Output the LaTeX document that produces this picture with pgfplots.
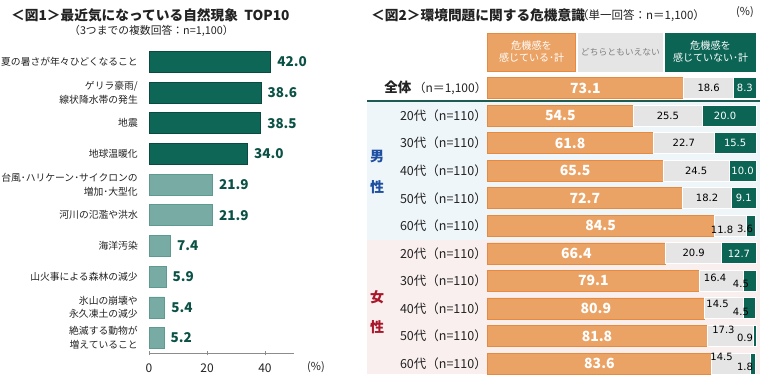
\documentclass[border=0pt]{standalone}
\usepackage{fontspec}
\setmainfont{Noto Sans CJK JP}
\newfontfamily\dv{DejaVu Sans}
\usepackage{pgfplots}
\pgfplotsset{compat=1.18}
\usepackage{pgfplotstable}
\newcommand\fs[2]{\fontsize{#1}{#2}\selectfont}
\definecolor{dk}{HTML}{0E6657}
\definecolor{dke}{HTML}{0A4A40}
\definecolor{lt}{HTML}{78ABA4}
\definecolor{lte}{HTML}{5D9A91}
\definecolor{vt}{HTML}{0B5145}
\definecolor{orf}{HTML}{EBA365}
\definecolor{ore}{HTML}{E58A3F}
\definecolor{grf}{HTML}{E5E5E5}
\definecolor{gnf}{HTML}{0C6455}
\definecolor{bandm}{HTML}{EEF6F9}
\definecolor{bandf}{HTML}{FAEFEF}
\definecolor{sep}{HTML}{1D5C52}
\definecolor{mblue}{HTML}{1E4FA0}
\definecolor{fred}{HTML}{A8182A}
\definecolor{txt}{HTML}{222222}

\pgfplotstableread{
i a b c
0 73.1 18.6 8.3
1 54.5 25.5 20.0
2 61.8 22.7 15.5
3 65.5 24.5 10.0
4 72.7 18.2 9.1
5 84.5 11.8 3.6
6 66.4 20.9 12.7
7 79.1 16.4 4.5
8 80.9 14.5 4.5
9 81.8 17.3 0.9
10 83.6 14.5 1.8
}\data

\begin{document}
\begin{tikzpicture}[x=1pt,y=1pt]
\useasboundingbox (0pt,0pt) rectangle (760pt,389pt);
% titles
\node[anchor=west,inner sep=0pt,text=txt] at (11pt,374pt) {\bfseries\fs{13.7}{15}＜図1＞最近気になっている自然現象\ \ TOP10};
\node[anchor=west,inner sep=0pt,text=txt] at (69pt,358pt) {\fs{10.8}{13}（3つまでの複数回答：n=1,100）};
\node[anchor=west,inner sep=0pt,text=txt] at (371pt,374pt) {\bfseries\fs{13.7}{15}＜図2＞環境問題に関する危機意識};
\node[anchor=west,inner sep=0pt,text=txt] at (577pt,373pt) {\fs{11.5}{13}（単一回答：n＝1,100）};
\node[inner sep=0pt,text=txt] at (745pt,377pt) {\fs{11}{13}(\%)};
\node[inner sep=0pt,text=txt] at (316pt,22pt) {\fs{11}{13}(\%)};
% bands
\fill[bandm] (367pt,288pt) rectangle (760pt,149pt);
\fill[bandf] (367pt,149pt) rectangle (760pt,15pt);
\draw[sep,line width=1.2pt] (367pt,288pt) -- (760pt,288pt);
% header boxes
\fill[orf] (487pt,356pt) rectangle (576pt,317pt);
\draw[ore,line width=0.6pt] (487.3pt,355.7pt) rectangle (575.7pt,317.3pt);
\fill[grf] (578pt,356pt) rectangle (663pt,317pt);
\fill[gnf] (665pt,356pt) rectangle (756pt,317pt);
\node[text=white,align=center,inner sep=0pt] at (531.5pt,337pt) {\fs{10.2}{16}危機感を\\感じている･計};
\node[text=black!50,align=center,inner sep=0pt] at (620.5pt,337pt) {\fs{8.8}{13}どちらともいえない};
\node[text=white,align=center,inner sep=0pt] at (710.5pt,337pt) {\fs{10.2}{16}危機感を\\感じていない･計};
% group labels
\node[text=mblue,inner sep=0pt] at (377pt,232pt) {\bfseries\fs{14}{16}男};
\node[text=mblue,inner sep=0pt] at (377pt,202pt) {\bfseries\fs{14}{16}性};
\node[text=fred,inner sep=0pt] at (377pt,92pt) {\bfseries\fs{14}{16}女};
\node[text=fred,inner sep=0pt] at (377pt,62pt) {\bfseries\fs{14}{16}性};

% ---------- left chart ----------
\begin{axis}[at={(149pt,35.7pt)}, anchor=south west, scale only axis,
  width=145pt, height=306.7pt,
  xmin=0, xmax=50, ymin=-0.5, ymax=9.5, y dir=reverse,
  xbar, bar width=21pt,
  axis x line*=bottom, axis y line*=left,
  x axis line style={-,draw=black!45},
  y axis line style={draw=none},
  xtick={0,20,40}, xtick style={draw=black!45}, tick align=center, major tick length=4pt,
  xticklabel style={font=\fs{12}{14}, text=txt, yshift=-5pt},
  ytick={0,...,9}, ytick style={draw=none},
  yticklabels={夏の暑さが年々ひどくなること,{ゲリラ豪雨/\\線状降水帯の発生},地震,地球温暖化,{台風･ハリケーン･サイクロンの\\増加･大型化},河川の氾濫や洪水,海洋汚染,山火事による森林の減少,{氷山の崩壊や\\永久凍土の減少},{絶滅する動物が\\増えていること}},
  yticklabel style={align=right, font=\fs{9.8}{13.5}, text=txt, inner sep=0pt, xshift=-9pt},
  /pgf/number format/assume math mode=true,
  nodes near coords={\pgfmathprintnumber[fixed,fixed zerofill,precision=1]{\pgfplotspointmeta}},
  nodes near coords style={anchor=west, font=\bfseries\fs{13.5}{15}, text=vt, xshift=3pt},
  clip=false]
\addplot[bar shift=0pt, fill=dk, draw=dke, line width=0.6pt] coordinates {(42.0,0) (38.6,1) (38.5,2) (34.0,3)};
\addplot[bar shift=0pt, fill=lt, draw=lte, line width=0.6pt] coordinates {(21.9,4) (21.9,5) (7.4,6) (5.9,7) (5.4,8) (5.2,9)};
\end{axis}

% ---------- right chart ----------
\begin{axis}[at={(487pt,11.7pt)}, anchor=south west, scale only axis,
  width=269pt, height=303pt,
  xmin=0, xmax=100, ymin=-0.5, ymax=10.5, y dir=reverse,
  xbar stacked, reverse stacked plots=false, bar width=21pt, hide axis, clip=false]
\addplot[fill=orf, draw=ore, line width=0.6pt] table[x=a,y=i]{\data};
\addplot[fill=grf, draw=white, line width=1pt] table[x=b,y=i]{\data};
\addplot[fill=gnf, draw=white, line width=1pt] table[x=c,y=i]{\data};
% row labels
\node[anchor=east,inner sep=0pt,text=txt] at (axis cs:0,0) {\bfseries\fs{13.5}{15}全体\,{\mdseries\fs{12}{14}（n＝1,100）}\hspace{4pt}};
\foreach \k/\a in {1/20,2/30,3/40,4/50,5/60,6/20,7/30,8/40,9/50,10/60}{
  \edef\tmp{\noexpand\node[anchor=east,inner sep=0pt,text=txt] at (axis cs:0,\k) {\noexpand\fs{12.5}{14}\a 代（n=110）\noexpand\hspace{1.5pt}};}\tmp
}
% orange labels
\foreach \x/\k/\v in {36.55/0/73.1,27.25/1/54.5,30.9/2/61.8,32.75/3/65.5,36.35/4/72.7,42.25/5/84.5,33.2/6/66.4,39.55/7/79.1,40.45/8/80.9,40.9/9/81.8,41.8/10/83.6}{
  \edef\tmp{\noexpand\node[text=white,inner sep=0pt] at (axis cs:\x,\k) {\noexpand\bfseries\noexpand\fs{14}{16}\v};}\tmp
}
% gray labels
\foreach \x/\k/\v in {82.4/0/18.6,67.25/1/25.5,73.15/2/22.7,77.75/3/24.5,81.8/4/18.2,76.85/6/20.9}{
  \edef\tmp{\noexpand\node[text=black,inner sep=0pt] at (axis cs:\x,\k) {\noexpand\dv\noexpand\fs{10}{12}\v};}\tmp
}
% green labels
\foreach \x/\k/\v in {95.85/0/8.3,88.5/1/20.0,92.25/2/15.5,95/3/10.0,95.45/4/9.1,93.65/6/12.7}{
  \edef\tmp{\noexpand\node[text=white,inner sep=0pt] at (axis cs:\x,\k) {\noexpand\dv\noexpand\fs{10}{12}\v};}\tmp
}
% special small labels
\node[text=black,inner sep=0pt,yshift=-4pt] at (axis cs:87.4,5) {\dv\fs{10}{12}11.8};
\node[text=black,inner sep=0pt,yshift=-3pt] at (axis cs:95.9,5) {\dv\fs{10}{12}3.6};
\node[text=black,inner sep=0pt,yshift=3pt] at (axis cs:84.8,7) {\dv\fs{10}{12}16.4};
\node[text=black,inner sep=0pt,yshift=-3pt] at (axis cs:94.4,7) {\dv\fs{10}{12}4.5};
\node[text=black,inner sep=0pt,yshift=5pt] at (axis cs:85.7,8) {\dv\fs{10}{12}14.5};
\node[text=black,inner sep=0pt,yshift=-3.5pt] at (axis cs:94.4,8) {\dv\fs{10}{12}4.5};
\node[text=black,inner sep=0pt,yshift=6pt] at (axis cs:87.9,9) {\dv\fs{10}{12}17.3};
\node[text=black,inner sep=0pt,yshift=-2pt] at (axis cs:95.9,9) {\dv\fs{10}{12}0.9};
\node[text=black,inner sep=0pt,yshift=6.5pt] at (axis cs:87.2,10) {\dv\fs{10}{12}14.5};
\node[text=black,inner sep=0pt,yshift=-3.5pt] at (axis cs:95.9,10) {\dv\fs{10}{12}1.8};
\end{axis}
\end{tikzpicture}
\end{document}
